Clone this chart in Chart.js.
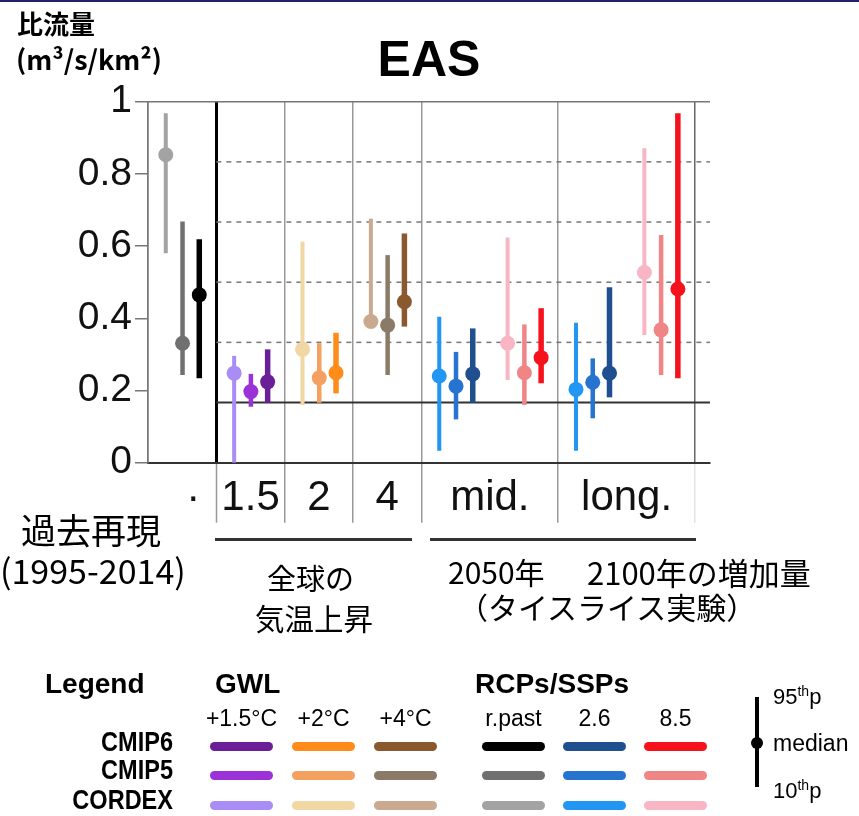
<!DOCTYPE html>
<html><head><meta charset="utf-8">
<script src="https://cdn.jsdelivr.net/npm/chart.js@4.4.1/dist/chart.umd.min.js"></script>
<style>
html,body{margin:0;padding:0;background:#fff;}
#wrap{position:relative;width:859px;height:816px;overflow:hidden;background:#fff;}
#c{position:absolute;left:0;top:0;}
.t{position:absolute;white-space:nowrap;line-height:1;color:#000;}
.jp{font-family:"Noto Sans CJK JP",sans-serif;}
.lg{font-family:"Liberation Sans",Arial,sans-serif;}
.ln{font-family:"Liberation Sans",Arial,sans-serif;font-weight:bold;transform:scaleX(0.84);transform-origin:right center;}
.sw{position:absolute;height:9px;width:63px;border-radius:4.5px;}
</style></head>
<body>
<div id="wrap">
<canvas id="c" width="859" height="816"></canvas>
<div style="position:absolute;left:0;top:0;width:859px;height:2px;background:#22226a"></div>
<div class="t jp" style="left:17px;top:10px;font-size:26px;font-weight:bold">比流量</div>
<div class="t jp" style="left:16px;top:45px;font-size:27px;font-weight:bold">(m³/s/km²)</div>
<div class="t jp" style="left:21px;top:511px;font-size:35px">過去再現</div>
<div class="t jp" style="left:0px;top:553px;font-size:34px">(1995-2014)</div>
<div class="t jp" style="left:267px;top:563px;font-size:29px">全球の</div>
<div class="t jp" style="left:255px;top:603px;font-size:29.5px">気温上昇</div>
<div class="t jp" style="left:448px;top:556px;font-size:30px">2050年</div>
<div class="t jp" style="left:587px;top:555.5px;font-size:31px">2100年の増加量</div>
<div class="t jp" style="left:458px;top:591px;font-size:30px">（タイスライス実験）</div>
<div style="position:absolute;left:215px;top:538px;width:197px;height:3px;background:#333"></div>
<div style="position:absolute;left:430px;top:538px;width:266px;height:3px;background:#333"></div>
<div id="legend"></div>
</div>
<script>
// ---- data ----
const scenarios = ['r.past', '+1.5°C', '+2°C', '+4°C', 'mid. 2.6', 'mid. 8.5', 'long. 2.6', 'long. 8.5'];
const scenarioSlot = [0, 1, 2, 3, 4, 5, 6, 7];
const ensembles = ['CORDEX', 'CMIP5', 'CMIP6'];

const cordexP10 = [0.580, 0.000, 0.160, 0.375, 0.033, 0.229, 0.033, 0.354];
const cordexMed = [0.853, 0.248, 0.314, 0.391, 0.240, 0.331, 0.203, 0.527];
const cordexP95 = [0.968, 0.296, 0.612, 0.676, 0.404, 0.624, 0.388, 0.871];

const cmip5P10 = [0.243, 0.155, 0.166, 0.243, 0.120, 0.160, 0.123, 0.243];
const cmip5Med = [0.331, 0.197, 0.235, 0.381, 0.212, 0.249, 0.223, 0.368];
const cmip5P95 = [0.668, 0.246, 0.331, 0.575, 0.307, 0.383, 0.289, 0.631];

const cmip6P10 = [0.234, 0.166, 0.192, 0.377, 0.166, 0.220, 0.181, 0.234];
const cmip6Med = [0.465, 0.224, 0.249, 0.446, 0.246, 0.291, 0.248, 0.481];
const cmip6P95 = [0.619, 0.314, 0.360, 0.635, 0.372, 0.428, 0.486, 0.968];

const yTickValues = [0, 0.2, 0.4, 0.6, 0.8, 1];
const yTickLabels = ['0', '0.2', '0.4', '0.6', '0.8', '1'];
const xBoundaries = [0, 1, 2, 3, 4, 6, 8];
const xLabelPos = [0.66, 1.5, 2.5, 3.5, 5, 7];
const xLabels = ['·', '1.5', '2', '4', 'mid.', 'long.'];
const refLines = [1/3, 1/2, 2/3, 5/6];
const baseLine = 1/6;

// ---- styles ----
const cordexColors = ['#a3a3a3', '#a98cf5', '#f0d7a4', '#c9aa90', '#2196f3', '#f8b5c4', '#2196f3', '#f8b5c4'];
const cmip5Colors  = ['#707070', '#9b32d8', '#f4a061', '#8c7a68', '#2673d0', '#ef8585', '#2673d0', '#ef8585'];
const cmip6Colors  = ['#000000', '#6a1f98', '#ff8b1a', '#8a5a2e', '#1f4f8f', '#f5121c', '#1f4f8f', '#f5121c'];
const ensOffset = [0.26, 0.505, 0.75];
const ensWidth = [4, 4.5, 5.5];
const ensLo = [cordexP10, cmip5P10, cmip6P10];
const ensMid = [cordexMed, cmip5Med, cmip6Med];
const ensHi = [cordexP95, cmip5P95, cmip6P95];
const ensCol = [cordexColors, cmip5Colors, cmip6Colors];

const datasets = [];
scenarios.forEach((s, i) => {
  ensembles.forEach((e, k) => {
    const xv = scenarioSlot[i] + ensOffset[k];
    const col = ensCol[k][i];
    datasets.push({
      type: 'line',
      label: e + ' ' + s,
      data: [{x: xv, y: ensLo[k][i]}, {x: xv, y: ensMid[k][i]}, {x: xv, y: ensHi[k][i]}],
      borderColor: col, backgroundColor: col, pointBorderColor: col,
      borderWidth: ensWidth[k], borderCapStyle: 'butt',
      pointRadius: c => c.dataIndex === 1 ? 7.5 : 0,
      pointHoverRadius: c => c.dataIndex === 1 ? 7.5 : 0,
      pointBorderWidth: 0, fill: false, tension: 0, clip: false
    });
  });
});

const refPlugin = {
  id: 'refLines',
  beforeDatasetsDraw(chart) {
    const {ctx, chartArea, scales: {x, y}} = chart;
    ctx.save();
    ctx.lineWidth = 1.5; ctx.strokeStyle = '#777';
    ctx.beginPath();
    ctx.moveTo(chartArea.left, y.getPixelForValue(1));
    ctx.lineTo(chartArea.right, y.getPixelForValue(1));
    ctx.stroke();
    ctx.setLineDash([5, 5]);
    ctx.strokeStyle = '#777';
    refLines.forEach(v => {
      const py = y.getPixelForValue(v);
      ctx.beginPath(); ctx.moveTo(x.getPixelForValue(1), py); ctx.lineTo(chartArea.right, py); ctx.stroke();
    });
    ctx.setLineDash([]);
    ctx.strokeStyle = '#333'; ctx.lineWidth = 2;
    const pb = y.getPixelForValue(baseLine);
    ctx.beginPath(); ctx.moveTo(x.getPixelForValue(1), pb); ctx.lineTo(chartArea.right, pb); ctx.stroke();
    ctx.restore();
  }
};

const isBoundary = v => xBoundaries.includes(v);
new Chart(document.getElementById('c'), {
  type: 'line',
  data: {datasets},
  plugins: [refPlugin],
  options: {
    responsive: false, animation: false, devicePixelRatio: 1,
    layout: {padding: {left: 63, right: 149, top: 0, bottom: 253.3}},
    plugins: {
      legend: {display: false}, tooltip: {enabled: false},
      title: {display: true, fullSize: false, text: 'EAS', color: '#000',
        font: {family: 'Liberation Sans', size: 50, weight: 'bold', lineHeight: 1.2},
        padding: {top: 32, bottom: 9.7}}
    },
    scales: {
      x: {
        type: 'linear', min: 0, max: 8.22, offset: false,
        afterBuildTicks: s => { s.ticks = xBoundaries.concat(xLabelPos).sort((a, b) => a - b).map(v => ({value: v})); },
        afterFit: s => { s.height = 100; },
        ticks: {
          autoSkip: false, maxRotation: 0, minRotation: 0, padding: -49, color: '#111',
          font: {family: 'Liberation Sans', size: 42, lineHeight: 1.2},
          callback: v => { const i = xLabelPos.indexOf(v); return i >= 0 ? xLabels[i] : ''; }
        },
        grid: {
          offset: false, drawTicks: true, tickLength: 60,
          color: c => { const v = c.tick && c.tick.value; if (!isBoundary(v)) return 'rgba(0,0,0,0)'; if (v === 1) return '#000'; if (v === 8) return '#666'; if (v === 0) return '#777'; return '#999'; },
          lineWidth: c => (c.tick && c.tick.value === 1) ? 3 : 1.5,
          tickColor: c => { const v = c.tick && c.tick.value; if (!isBoundary(v) || v === 0) return 'rgba(0,0,0,0)'; if (v === 8) return '#e4e4e4'; return '#999'; },
          tickWidth: 1.5
        },
        border: {display: true, color: '#333', width: 2}
      },
      y: {
        type: 'linear', min: 0, max: 1,
        afterBuildTicks: s => { s.ticks = yTickValues.map(v => ({value: v})); },
        afterFit: s => { s.width = 85; },
        ticks: {
          padding: 3, color: '#111',
          font: {family: 'Liberation Sans', size: 39},
          callback: v => { const i = yTickValues.indexOf(v); return i >= 0 ? yTickLabels[i] : ''; }
        },
        grid: {drawOnChartArea: false, drawTicks: true, tickLength: 13, color: '#777', lineWidth: 1.5},
        border: {display: true, color: '#777', width: 1.5}
      }
    }
  }
});

// ---- legend (HTML) ----
const legendRows = ['CMIP6', 'CMIP5', 'CORDEX'];
const gwlHeaders = ['+1.5°C', '+2°C', '+4°C'];
const rcpHeaders = ['r.past', '2.6', '8.5'];
const legendColumnScenario = [1, 2, 3, 0, 4, 5];
const rowColorSets = [cmip6Colors, cmip5Colors, cordexColors];
const swatchLeft = [210, 292, 374, 482, 563, 644];
const rowTop = [741.5, 770.8, 800.5];
const rowLabelTop = [728, 756.3, 786.3];
const lg = document.getElementById('legend');
let html = '';
html += '<div class="t lg" style="left:45px;top:670px;font-size:28px;font-weight:bold">Legend</div>';
html += '<div class="t lg" style="left:215px;top:670px;font-size:28px;font-weight:bold">GWL</div>';
html += '<div class="t lg" style="left:475px;top:670px;font-size:28px;font-weight:bold">RCPs/SSPs</div>';
gwlHeaders.concat(rcpHeaders).forEach((h, j) => {
  html += `<div class="t lg" style="left:${swatchLeft[j] + 31.5 - 60}px;width:120px;text-align:center;top:706.5px;font-size:23px">${h}</div>`;
});
legendRows.forEach((r, i) => {
  html += `<div class="t ln" style="left:0;width:173px;text-align:right;top:${rowLabelTop[i]}px;font-size:28px">${r}</div>`;
  legendColumnScenario.forEach((sc, j) => {
    html += `<div class="sw" style="left:${swatchLeft[j]}px;top:${rowTop[i]}px;background:${rowColorSets[i][sc]}"></div>`;
  });
});
html += '<div style="position:absolute;left:755.3px;top:696.7px;width:4px;height:90.6px;background:#000"></div>';
html += '<div style="position:absolute;left:751.3px;top:737.3px;width:12px;height:12px;border-radius:6px;background:#000"></div>';
html += '<div class="t lg" style="left:773px;top:686.4px;font-size:22px">95<span style="font-size:14px;position:relative;top:-8px">th</span>p</div>';
html += '<div class="t lg" style="left:773px;top:732.2px;font-size:23px">median</div>';
html += '<div class="t lg" style="left:773px;top:779.7px;font-size:22px">10<span style="font-size:14px;position:relative;top:-8px">th</span>p</div>';
lg.innerHTML = html;
</script>
</body></html>
